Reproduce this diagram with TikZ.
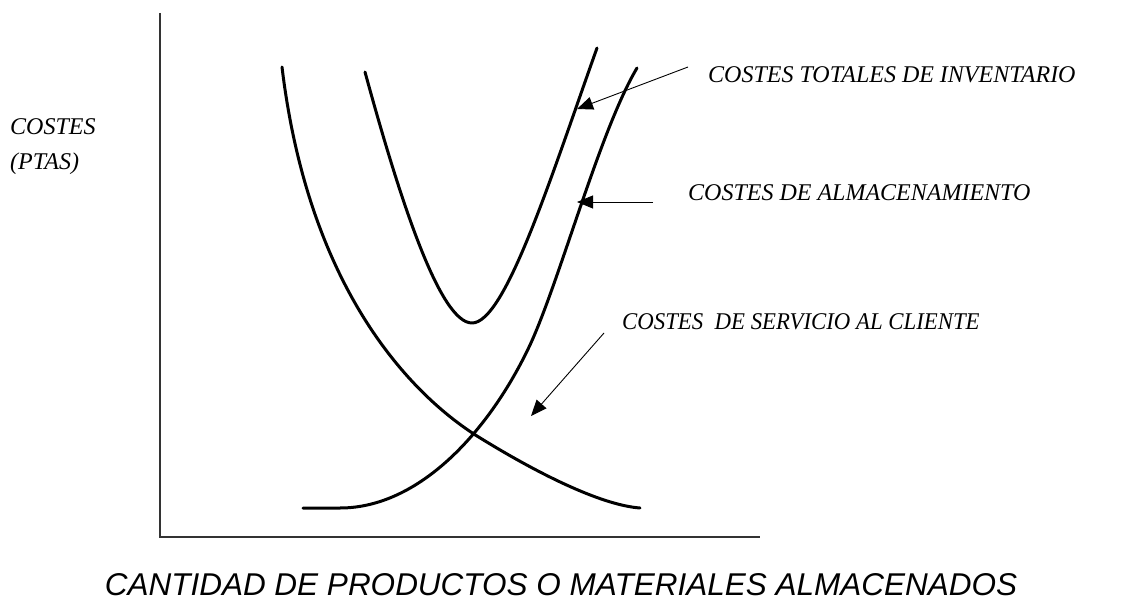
\documentclass[tikz,border=0pt]{standalone}
\usepackage{fontspec}
\setmainfont{Liberation Serif}
\setsansfont{Liberation Sans}
\usepackage{tikz}
\usetikzlibrary{arrows.meta,calc,positioning}

\tikzset{
  curva/.style={line width=3pt,line join=round,line cap=round},
  eje/.style={line width=1.5pt,black!80},
  flecha/.style={line width=0.9pt,-{Triangle[length=16pt,width=13pt]}},
  lbl/.style={font=\fontsize{24}{35}\selectfont\itshape,anchor=west,inner sep=0pt},
}

\begin{document}
\begin{tikzpicture}[x=1pt,y=-1pt]
\useasboundingbox (0,0) rectangle (1136,610);
\coordinate (O) at (160,537);
\coordinate (ytop) at (160,13);
\coordinate (xend) at (760,537);
\draw[eje] (ytop) -- (O) -- (xend);
% servicio al cliente
\draw[curva] (282,67) .. controls (310,300) and (420,400) .. (477,436)
  .. controls (535,472) and (600,505) .. (640,508);
% almacenamiento
\draw[curva] (303,508) -- (340,508) .. controls (420,508) and (490,430) .. (530,345)
  .. controls (560,280) and (600,130) .. (637,68);
% totales
\draw[curva] (365,72) .. controls (400,200) and (440,323) .. (472,323)
  .. controls (505,323) and (550,180) .. (597,48);

\node[lbl] (tot) at (708,75) {COSTES TOTALES DE INVENTARIO};
\node[lbl] (alm) at (688,193) {COSTES DE ALMACENAMIENTO};
\node[lbl] (serv) at (622,322) {\scalebox{0.95}[1]{COSTES\ \ DE SERVICIO AL CLIENTE}};
\node[lbl,align=left] (ejey) at (10,147) {COSTES\\(PTAS)};
\node[font=\fontsize{31.5}{36}\selectfont\sffamily\itshape,inner sep=0pt] (ejex) at (561,585) {CANTIDAD DE PRODUCTOS O MATERIALES ALMACENADOS};

\coordinate (tot-a) at (688,67);
\coordinate (tot-p) at (577,109);
\coordinate (alm-a) at (653,202);
\coordinate (alm-p) at (577,202);
\coordinate (serv-a) at (604,333);
\coordinate (serv-p) at (531,416);
\draw[flecha] (tot-a) -- (tot-p);
\draw[flecha] (alm-a) -- (alm-p);
\draw[flecha] (serv-a) -- (serv-p);
\end{tikzpicture}
\end{document}
